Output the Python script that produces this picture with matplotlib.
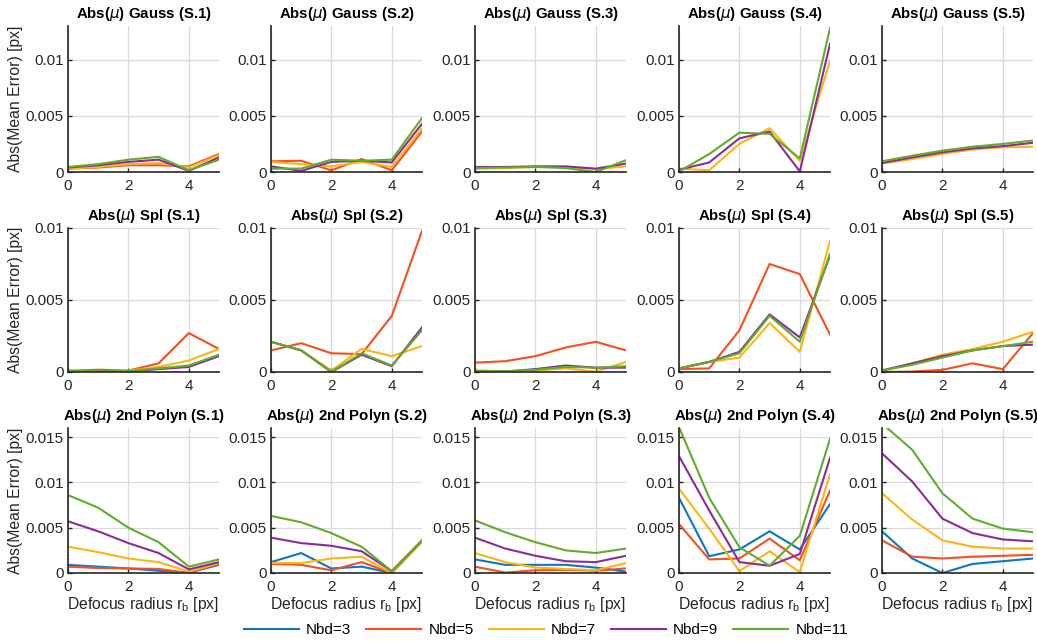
import numpy as np
import matplotlib
matplotlib.use("Agg")
import matplotlib.pyplot as plt
from matplotlib.lines import Line2D

plt.rcParams['font.family'] = ['Liberation Sans', 'DejaVu Sans']
plt.rcParams['mathtext.fontset'] = 'dejavusans'

# ---------------- data ----------------
radius = [0, 1, 2, 3, 4, 5]
series_labels = ['Nbd=3', 'Nbd=5', 'Nbd=7', 'Nbd=9', 'Nbd=11']
series_colors = ['#0B77C8', '#F4511E', '#FDB515', '#8B2C9A', '#5FAD2B']
scenes = ['S.1', 'S.2', 'S.3', 'S.4', 'S.5']

# Row 1: Gauss  (one list per scene; None = not drawn)
gauss_nbd3 = [None, None, None, None, None]
gauss_nbd5 = [[0.0003, 0.0004, 0.0006, 0.0006, 0.0005, 0.0016],
              [0.00095, 0.001, 0.00015, 0.00115, 0.00015, 0.0036],
              None, None, None]
gauss_nbd7 = [[0.0003, 0.00045, 0.0007, 0.0008, 0.0004, 0.0015],
              [0.0009, 0.0007, 0.0005, 0.0009, 0.00045, 0.0039],
              [0.0003, 0.00035, 0.00045, 0.00045, 0.00025, 0.0005],
              [0.0003, 0.00015, 0.0025, 0.0039, 0.001, 0.0099],
              [0.00075, 0.00115, 0.0016, 0.002, 0.0022, 0.00225]]
gauss_nbd9 = [[0.0004, 0.0006, 0.0009, 0.0011, 0.0001, 0.0013],
              [0.0005, 0.0001, 0.0009, 0.001, 0.00085, 0.0043],
              [0.00045, 0.00045, 0.0005, 0.0005, 0.0003, 0.00075],
              [0.0002, 0.00085, 0.003, 0.0036, 0.00005, 0.0114],
              [0.0008, 0.0013, 0.00175, 0.0021, 0.0023, 0.0026]]
gauss_nbd11 = [[0.00045, 0.0007, 0.0011, 0.00135, 0.00015, 0.0011],
               [0.0003, 0.0003, 0.0011, 0.001, 0.0011, 0.0048],
               [0.00035, 0.0004, 0.00045, 0.00035, 0.0, 0.00105],
               [0.00005, 0.0016, 0.0035, 0.0034, 0.0012, 0.0128],
               [0.00095, 0.00145, 0.0019, 0.00225, 0.0025, 0.0028]]

# Row 2: Spl
spl_nbd3 = [None, None, None, None, None]
spl_nbd5 = [[0.00007, 0.00016, 0.0001, 0.0006, 0.0027, 0.0016],
            [0.0015, 0.002, 0.0013, 0.00124, 0.0039, 0.0098],
            [0.00065, 0.00075, 0.0011, 0.0017, 0.0021, 0.0015],
            [0.0002, 0.00025, 0.0029, 0.0075, 0.0068, 0.0026],
            [0.0, 0.00003, 0.00015, 0.0006, 0.0002, 0.0027]]
spl_nbd7 = [[0.00005, 0.00005, 0.0001, 0.00035, 0.0008, 0.0016],
            [0.0021, 0.0015, 0.0001, 0.0016, 0.0011, 0.0018],
            [0.00003, 0.00005, 0.0001, 0.00025, 0.00002, 0.0007],
            [0.00025, 0.0007, 0.001, 0.0034, 0.0014, 0.0091],
            [0.0001, 0.0006, 0.0012, 0.0016, 0.0021, 0.0028]]
spl_nbd9 = [[0.00003, 0.00003, 0.00003, 0.0002, 0.00035, 0.0011],
            [0.0021, 0.0015, 0.0, 0.0012, 0.0004, 0.0031],
            [0.00005, 0.00003, 0.0002, 0.00045, 0.0003, 0.0003],
            [0.00025, 0.0007, 0.0014, 0.004, 0.0024, 0.0081],
            [0.0001, 0.0006, 0.0011, 0.0015, 0.0018, 0.0019]]
spl_nbd11 = [[0.0001, 0.00005, 0.00007, 0.00025, 0.00045, 0.0012],
             [0.0021, 0.0015, 0.0, 0.0013, 0.00045, 0.0029],
             [0.0001, 0.00005, 0.00015, 0.00035, 0.0003, 0.0004],
             [0.00025, 0.0007, 0.0013, 0.0039, 0.0021, 0.0082],
             [0.0001, 0.0005, 0.001, 0.0015, 0.0018, 0.0021]]

# Row 3: 2nd Polyn
poly_nbd3 = [[0.0009, 0.0007, 0.0005, 0.00025, 0.00005, 0.0009],
             [0.0012, 0.0022, 0.0005, 0.0007, 0.0, 0.0035],
             [0.0015, 0.0009, 0.0009, 0.0009, 0.0006, 0.00015],
             [0.0083, 0.00185, 0.0026, 0.0046, 0.0026, 0.0076],
             [0.0046, 0.0016, 0.0, 0.001, 0.0013, 0.0016]]
poly_nbd5 = [[0.0007, 0.00055, 0.0005, 0.00045, 0.0, 0.001],
             [0.001, 0.0009, 0.0003, 0.0012, 0.0, 0.0035],
             [0.0007, 0.00005, 0.0003, 0.00035, 0.00025, 0.0005],
             [0.0054, 0.0015, 0.0016, 0.0038, 0.0014, 0.0091],
             [0.0036, 0.0018, 0.0016, 0.0018, 0.0019, 0.002]]
poly_nbd7 = [[0.0029, 0.0023, 0.0016, 0.0012, 0.00015, 0.0011],
             [0.0011, 0.0011, 0.0016, 0.0018, 0.0, 0.0035],
             [0.0022, 0.0012, 0.0006, 0.00045, 0.0003, 0.0011],
             [0.0093, 0.0049, 0.0002, 0.0024, 0.0001, 0.0109],
             [0.0088, 0.0059, 0.0036, 0.0029, 0.0027, 0.0027]]
poly_nbd9 = [[0.0057, 0.0046, 0.0033, 0.0022, 0.0004, 0.0012],
             [0.0039, 0.0033, 0.003, 0.0024, 0.0002, 0.0036],
             [0.0039, 0.0027, 0.0019, 0.0013, 0.0012, 0.0019],
             [0.0129, 0.0069, 0.0012, 0.0008, 0.0021, 0.0127],
             [0.0132, 0.0101, 0.006, 0.0044, 0.0037, 0.0035]]
poly_nbd11 = [[0.0086, 0.0072, 0.005, 0.0034, 0.0007, 0.0015],
              [0.0063, 0.0056, 0.0044, 0.0029, 0.0002, 0.0036],
              [0.0058, 0.0045, 0.0034, 0.0025, 0.0022, 0.0027],
              [0.0161, 0.0083, 0.00285, 0.0008, 0.0041, 0.0148],
              [0.0165, 0.0136, 0.0088, 0.006, 0.0049, 0.0045]]

row_titles = ['Gauss', 'Spl', '2nd Polyn']
row_series = [[gauss_nbd3, gauss_nbd5, gauss_nbd7, gauss_nbd9, gauss_nbd11],
              [spl_nbd3, spl_nbd5, spl_nbd7, spl_nbd9, spl_nbd11],
              [poly_nbd3, poly_nbd5, poly_nbd7, poly_nbd9, poly_nbd11]]
row_ylim = [0.013, 0.010, 0.016]
row_yticks = [[0, 0.005, 0.01], [0, 0.005, 0.01], [0, 0.005, 0.01, 0.015]]
ytick_labels = {0: '0', 0.005: '0.005', 0.01: '0.01', 0.015: '0.015'}
x_ticks = [0, 2, 4]

# ---------------- layout ----------------
W, H = 1037, 642
fig = plt.figure(figsize=(W / 100, H / 100), dpi=100)
col_left_px = [68, 271, 475, 679, 882]
ax_w_px = 151
row_px = [(26, 172), (228, 372), (428, 573)]

FS_TICK = 11
FS_TITLE = 10.8
FS_LABEL = 11.3
TXT = '#262626'
for r in range(3):
    top, bot = row_px[r]
    for c in range(5):
        ax = fig.add_axes([col_left_px[c] / W, 1 - bot / H, ax_w_px / W, (bot - top) / H])
        for s in range(5):
            vals = row_series[r][s][c]
            if vals is None:
                continue
            ax.plot(radius, vals, color=series_colors[s], lw=1.5, clip_on=True)
        ax.set_xlim(0, 5)
        ax.set_ylim(0, row_ylim[r])
        ax.set_xticks(x_ticks)
        ax.set_xticklabels([str(t) for t in x_ticks])
        ax.set_yticks(row_yticks[r])
        ax.set_yticklabels([ytick_labels[t] for t in row_yticks[r]])
        ax.grid(True, color='#D9D9D9', lw=0.9)
        ax.set_axisbelow(True)
        for sp in ['top', 'right']:
            ax.spines[sp].set_visible(False)
        for sp in ['left', 'bottom']:
            ax.spines[sp].set_linewidth(1.2)
            ax.spines[sp].set_color(TXT)
        ax.tick_params(direction='in', length=3, width=1, labelsize=FS_TICK,
                       colors=TXT, pad=3)
        ax.tick_params(axis='x', pad=5)
        ax.set_title('Abs($\\mu$) %s (%s)' % (row_titles[r], scenes[c]),
                     fontsize=FS_TITLE, fontweight='bold', pad=6, color='black')
        if c == 0:
            ax.set_ylabel('Abs(Mean Error) [px]', fontsize=FS_LABEL, color=TXT, labelpad=2)
        if r == 2:
            ax.set_xlabel('Defocus radius r$_\\mathregular{b}$ [px]', fontsize=FS_LABEL,
                          color=TXT, labelpad=1)

handles = [Line2D([0], [0], color=col, lw=1.5) for col in series_colors]
fig.legend(handles, series_labels, loc='center', bbox_to_anchor=(546 / W, 1 - 630 / H),
           ncol=5, frameon=False, fontsize=FS_TICK, handlelength=3.6, handletextpad=0.45,
           columnspacing=1.0)

fig.savefig('out.png', dpi=100)
